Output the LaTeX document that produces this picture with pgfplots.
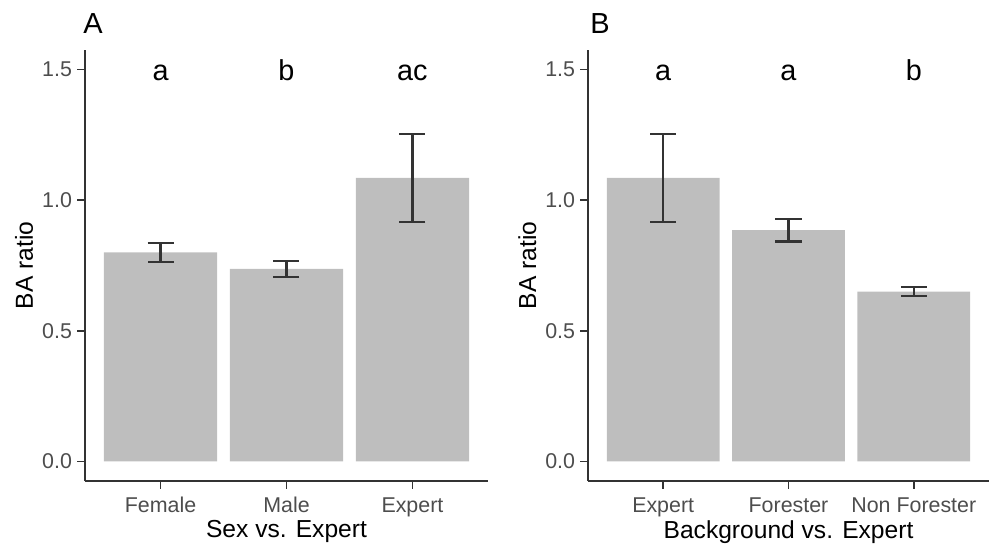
\documentclass[border=0pt]{standalone}
\usepackage{pgfplots}
\pgfplotsset{compat=1.18}
\usepackage{fontspec}
\setmainfont{Liberation Sans}
\definecolor{barfill}{HTML}{BEBEBE}
\definecolor{axcol}{HTML}{333333}
\definecolor{tickcol}{HTML}{4D4D4D}
\pgfplotsset{
  panel/.style={
    scale only axis,
    width=201.5pt, height=215.5pt,
    anchor=south west,
    xmin=0.4, xmax=3.6,
    ymin=-0.075, ymax=1.575,
    axis lines*=left,
    axis line style={axcol, line width=0.9pt},
    tick style={axcol, line width=0.9pt},
    tick align=outside,
    major tick length=3.8pt,
    xtick={1,2,3},
    ytick={0,0.5,1,1.5},
    /pgf/number format/assume math mode=true,
    yticklabel style={/pgf/number format/fixed, /pgf/number format/fixed zerofill, /pgf/number format/precision=1},
    ticklabel style={font=\fontsize{10.7}{12}\selectfont, text=tickcol},
    yticklabel style={inner sep=0pt, xshift=-2.5pt},
    xticklabel style={inner sep=0pt, yshift=-4.2pt},
    label style={font=\fontsize{12.3}{14}\selectfont, text=black},
    ylabel style={at={(axis description cs:-0.151,0.5)}, anchor=center},
    xlabel style={at={(axis description cs:0.5,-0.118)}, anchor=center},
    ylabel={BA ratio},
    bar width=0.9,
    clip=false,
  },
  barplot/.style={
    ybar, bar shift=0pt, fill=barfill, draw=none,
    error bars/.cd, y dir=both, y explicit,
    error bar style={draw=axcol, line width=1.1pt},
    error mark options={draw=axcol, line width=1.1pt, mark size=6.5pt, rotate=90},
  },
}
\begin{document}
\begin{tikzpicture}
\useasboundingbox (0,0) rectangle (496.5pt,274pt);
\begin{axis}[panel, at={(42.5pt,33.5pt)},
  xticklabels={Female,Male,Expert},
  xlabel={Sex vs. Expert}]
\addplot[barplot] coordinates {
  (1,0.800) +- (0,0.037)
  (2,0.737) +- (0,0.030)
  (3,1.085) +- (0,0.168)
};
\node[anchor=base, font=\fontsize{14.4}{16}\selectfont] at (axis cs:1,1.458) {a};
\node[anchor=base, font=\fontsize{14.4}{16}\selectfont] at (axis cs:2,1.458) {b};
\node[anchor=base, font=\fontsize{14.4}{16}\selectfont] at (axis cs:3,1.458) {ac};
\end{axis}
\begin{axis}[panel, at={(294pt,33.5pt)}, width=200.5pt,
  xticklabels={Expert,Forester,Non Forester},
  xlabel={Background vs. Expert}]
\addplot[barplot] coordinates {
  (1,1.085) +- (0,0.168)
  (2,0.885) +- (0,0.043)
  (3,0.650) +- (0,0.018)
};
\node[anchor=base, font=\fontsize{14.4}{16}\selectfont] at (axis cs:1,1.458) {a};
\node[anchor=base, font=\fontsize{14.4}{16}\selectfont] at (axis cs:2,1.458) {a};
\node[anchor=base, font=\fontsize{14.4}{16}\selectfont] at (axis cs:3,1.458) {b};
\end{axis}
\node[anchor=base west, inner sep=0pt, font=\fontsize{14.5}{16}\selectfont] at (41.5pt,257.5pt) {A};
\node[anchor=base west, inner sep=0pt, font=\fontsize{14.5}{16}\selectfont] at (295pt,257.5pt) {B};
\end{tikzpicture}
\end{document}
